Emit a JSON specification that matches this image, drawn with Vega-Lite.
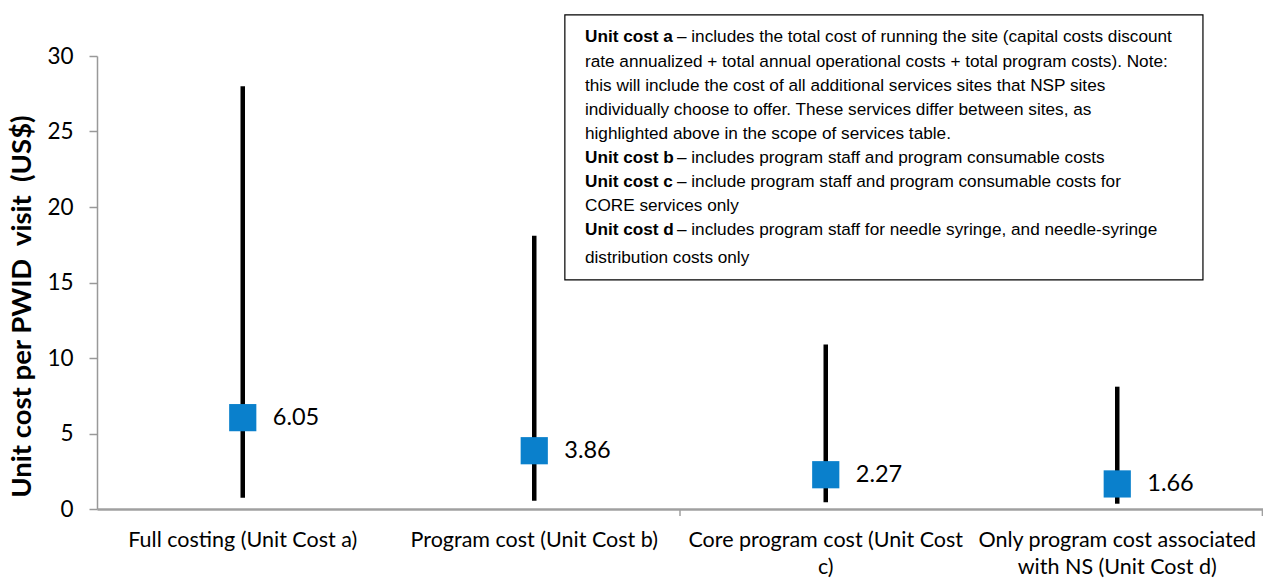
{
  "$schema": "https://vega.github.io/schema/vega-lite/v6.json",
  "width": 1166,
  "height": 453,
  "autosize": {"type": "none"},
  "padding": {"left": 97, "top": 56, "right": 0, "bottom": 69},
  "background": "white",
  "config": {"view": {"stroke": null}, "font": "Lato"},
  "datasets": {
    "costs": [
      {"measure": "Full costing (Unit Cost a)", "low": 0.75, "high": 28.0, "unit_cost": 6.05},
      {"measure": "Program cost (Unit Cost b)", "low": 0.55, "high": 18.1, "unit_cost": 3.86},
      {"measure": "Core program cost (Unit Cost c)", "low": 0.45, "high": 10.9, "unit_cost": 2.27},
      {"measure": "Only program cost associated with NS (Unit Cost d)", "low": 0.35, "high": 8.1, "unit_cost": 1.66}
    ],
    "box": [
      {"x1": 1.605, "x2": 3.794, "y1": 15.17, "y2": 32.72}
    ],
    "axis_ticks": [
      {"tx": 2, "ty1": 0, "ty2": -0.46},
      {"tx": 3.998, "ty1": 0, "ty2": -0.46}
    ],
    "note": [
      {"nx": 1.674, "ny": 31.25, "lead": "Unit cost a", "text": "– includes the total cost of running the site (capital costs discount"},
      {"nx": 1.674, "ny": 29.62, "lead": "", "text": "rate annualized + total annual operational costs + total program costs). Note:"},
      {"nx": 1.674, "ny": 28.03, "lead": "", "text": "this will include the cost of all additional services sites that NSP sites"},
      {"nx": 1.674, "ny": 26.45, "lead": "", "text": "individually choose to offer. These services differ between sites, as"},
      {"nx": 1.674, "ny": 24.86, "lead": "", "text": "highlighted above in the scope of services table."},
      {"nx": 1.674, "ny": 23.22, "lead": "Unit cost b", "text": "– includes program staff and program consumable costs"},
      {"nx": 1.674, "ny": 21.63, "lead": "Unit cost c", "text": "– include program staff and program consumable costs for"},
      {"nx": 1.674, "ny": 20.05, "lead": "", "text": "CORE services only"},
      {"nx": 1.674, "ny": 18.46, "lead": "Unit cost d", "text": "– includes program staff for needle syringe, and needle-syringe"},
      {"nx": 1.674, "ny": 16.62, "lead": "", "text": "distribution costs only"}
    ]
  },
  "layer": [
    {
      "data": {"name": "costs"},
      "encoding": {
        "x": {
          "field": "measure",
          "type": "nominal",
          "sort": null,
          "scale": {"paddingInner": 0, "paddingOuter": 0},
          "axis": {
            "title": null,
            "labelAngle": 0,
            "labelFontSize": 21.5,
            "labelColor": "black",
            "labelPadding": 20,
            "labelLineHeight": 27,
            "labelLimit": 400,
            "labelExpr": "datum.value == 'Core program cost (Unit Cost c)' ? ['Core program cost (Unit Cost', 'c)'] : datum.value == 'Only program cost associated with NS (Unit Cost d)' ? ['Only program cost associated', 'with NS (Unit Cost d)'] : datum.value",
            "ticks": false,
            "domainColor": "#a0a0a0",
            "domainWidth": 2.5
          }
        }
      },
      "layer": [
        {
          "mark": {"type": "rule", "color": "black", "strokeWidth": 4.5},
          "encoding": {
            "y": {
              "field": "low",
              "type": "quantitative",
              "scale": {"domain": [0, 30], "nice": false, "zero": true},
              "axis": {
                "values": [0, 5, 10, 15, 20, 25, 30],
                "grid": false,
                "title": "Unit cost per PWID \u00a0visit \u00a0(US$)",
                "titleFontSize": 27.5,
                "titleFontWeight": "bold",
                "titleColor": "black",
                "titleX": -75,
                "titleY": 250,
                "titleAngle": -90,
                "titleAlign": "center",
                "titleBaseline": "middle",
                "labelFontSize": 22.5,
                "labelColor": "black",
                "labelPadding": 16,
                "tickSize": 8,
                "tickColor": "#999999",
                "tickWidth": 1.5,
                "domainColor": "#999999",
                "domainWidth": 1.5
              }
            },
            "y2": {"field": "high"}
          }
        },
        {
          "mark": {"type": "square", "size": 740, "color": "#0A80CC", "opacity": 1, "strokeWidth": 0},
          "encoding": {"y": {"field": "unit_cost", "type": "quantitative"}}
        },
        {
          "mark": {"type": "text", "align": "left", "baseline": "middle", "dx": 30, "fontSize": 23.5, "color": "black"},
          "encoding": {
            "y": {"field": "unit_cost", "type": "quantitative"},
            "text": {"field": "unit_cost", "type": "quantitative", "format": ".2f"}
          }
        }
      ]
    },
    {
      "data": {"name": "axis_ticks"},
      "mark": {"type": "rule", "color": "#a0a0a0", "strokeWidth": 1.5},
      "encoding": {
        "x": {"field": "tx", "type": "quantitative", "scale": {"domain": [0, 4], "nice": false}, "axis": null},
        "y": {"field": "ty1", "type": "quantitative"},
        "y2": {"field": "ty2"}
      }
    },
    {
      "data": {"name": "box"},
      "mark": {"type": "rect", "fill": "white", "stroke": "black", "strokeWidth": 1.2},
      "encoding": {
        "x": {"field": "x1", "type": "quantitative", "scale": {"domain": [0, 4], "nice": false}, "axis": null},
        "x2": {"field": "x2"},
        "y": {"field": "y1", "type": "quantitative"},
        "y2": {"field": "y2"}
      }
    },
    {
      "data": {"name": "note"},
      "encoding": {
        "x": {"field": "nx", "type": "quantitative", "scale": {"domain": [0, 4], "nice": false}, "axis": null},
        "y": {"field": "ny", "type": "quantitative"}
      },
      "layer": [
        {
          "transform": [{"filter": "datum.lead != ''"}],
          "mark": {"type": "text", "align": "left", "baseline": "middle", "font": "Liberation Sans", "fontSize": 17.2, "fontWeight": "bold", "color": "black"},
          "encoding": {"text": {"field": "lead"}}
        },
        {
          "transform": [{"filter": "datum.lead != ''"}],
          "mark": {"type": "text", "align": "left", "baseline": "middle", "dx": 92, "font": "Liberation Sans", "fontSize": 17.2, "color": "black"},
          "encoding": {"text": {"field": "text"}}
        },
        {
          "transform": [{"filter": "datum.lead == ''"}],
          "mark": {"type": "text", "align": "left", "baseline": "middle", "font": "Liberation Sans", "fontSize": 17.2, "color": "black"},
          "encoding": {"text": {"field": "text"}}
        }
      ]
    }
  ],
  "resolve": {"scale": {"x": "independent"}}
}
